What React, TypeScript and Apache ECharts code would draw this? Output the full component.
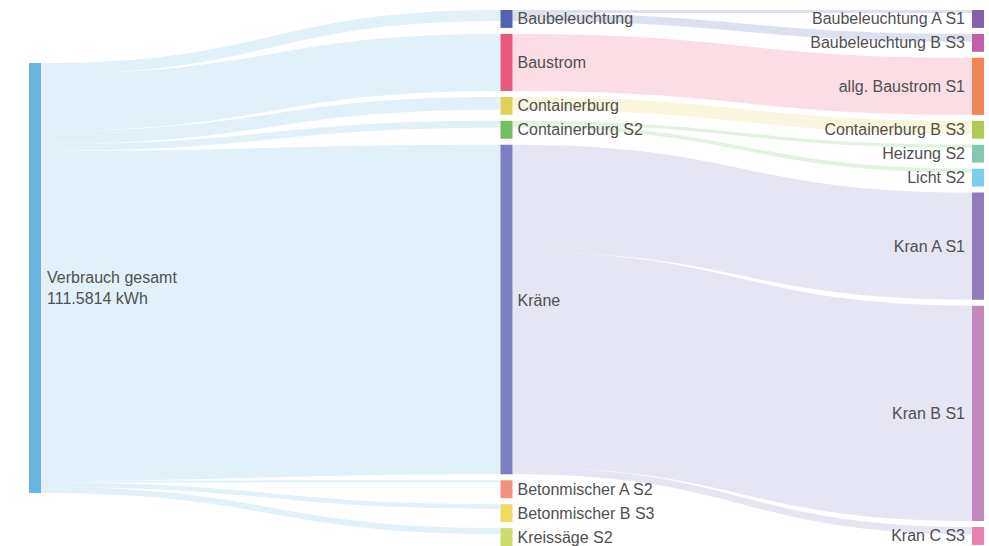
import React, { useEffect, useRef } from "react";
import * as echarts from "echarts";

const sourceNode = "Verbrauch gesamt";
const sourceColor = "#6ab4e0";
const sourceTotalLabel = "111.5814 kWh";

const middleNodes = [
  "Baubeleuchtung",
  "Baustrom",
  "Containerburg",
  "Containerburg S2",
  "Kräne",
  "Betonmischer A S2",
  "Betonmischer B S3",
  "Kreissäge S2",
];
const middleValues = [2.84, 14.8, 3.36, 1.81, 85.54, 0.52, 1.16, 1.55];
const middleColors = [
  "#5562b0",
  "#e9577c",
  "#e0d055",
  "#74bf62",
  "#7b7fc2",
  "#f4907c",
  "#f0da60",
  "#cddb6c",
];

const rightSources = [
  "Baubeleuchtung",
  "Baubeleuchtung",
  "Baustrom",
  "Containerburg",
  "Containerburg S2",
  "Containerburg S2",
  "Kräne",
  "Kräne",
  "Kräne",
];
const rightNodes = [
  "Baubeleuchtung A S1",
  "Baubeleuchtung B S3",
  "allg. Baustrom S1",
  "Containerburg B S3",
  "Heizung S2",
  "Licht S2",
  "Kran A S1",
  "Kran B S1",
  "Kran C S3",
];
const rightValues = [0.78, 2.06, 14.8, 3.36, 0.8, 1.01, 27.8, 55.9, 1.84];
const rightColors = [
  "#8460ad",
  "#c060a8",
  "#ee8658",
  "#aecb58",
  "#82c8b0",
  "#80ccf0",
  "#927bb8",
  "#c288bd",
  "#ea80b0",
];

// smallest drawn node size (in kWh units), as in the original chart
const minNodeValue = 4.65;

export default function App() {
  const ref = useRef<HTMLDivElement>(null);

  useEffect(() => {
    document.body.style.margin = "0";
    const chart = echarts.init(ref.current!, null, { renderer: "svg" });

    const layoutTop = 10;
    const layoutHeight = 536;
    const gap = 6;
    const colSum = (vals: number[]) =>
      vals.reduce((s, v) => s + Math.max(v, minNodeValue), 0);
    const total = middleValues.reduce((a, b) => a + b, 0);
    const ky = Math.min(
      (layoutHeight - (middleNodes.length - 1) * gap) / colSum(middleValues),
      (layoutHeight - (rightNodes.length - 1) * gap) / colSum(rightValues),
      layoutHeight / total
    );
    // center the single source node vertically in its column
    const srcLocalY = (layoutHeight - total * ky) / 2 / layoutHeight;

    const textStyle = {
      fontFamily: "'Liberation Sans', Arial, sans-serif",
      fontSize: 16,
      color: "#505050",
      lineHeight: 21,
    };

    const nodes: any[] = [
      {
        name: sourceNode,
        localY: srcLocalY,
        itemStyle: { color: sourceColor },
        label: {
          position: "insideLeft",
          offset: [13, 10],
          formatter: "{b}\n" + sourceTotalLabel,
          ...textStyle,
        },
      },
      ...middleNodes.map((n, i) => ({
        name: n,
        value: minNodeValue,
        itemStyle: { color: middleColors[i] },
        label: {
          position: "right",
          distance: 5,
          offset: n === "Kräne" ? [0, -9] : [0, 0],
          ...textStyle,
        },
      })),
      ...rightNodes.map((n, i) => ({
        name: n,
        value: minNodeValue,
        itemStyle: { color: rightColors[i] },
        label: { position: "left", distance: 7, ...textStyle },
      })),
    ];

    const links: any[] = [
      ...middleNodes.map((n, i) => ({
        source: sourceNode,
        target: n,
        value: middleValues[i],
      })),
      ...rightNodes.map((n, i) => ({
        source: rightSources[i],
        target: n,
        value: rightValues[i],
      })),
    ];

    chart.setOption({
      animation: false,
      tooltip: { show: false },
      series: [
        {
          type: "sankey",
          left: 29,
          right: 5,
          top: layoutTop,
          bottom: 546 - layoutTop - layoutHeight,
          nodeWidth: 12,
          nodeGap: gap,
          nodeAlign: "left",
          layoutIterations: 0,
          draggable: false,
          emphasis: { disabled: true },
          data: nodes,
          links: links,
          itemStyle: { borderWidth: 0 },
          lineStyle: { color: "source", opacity: 0.2, curveness: 0.5 },
          label: { ...textStyle },
        },
      ],
    });

    return () => chart.dispose();
  }, []);

  return <div ref={ref} style={{ width: 989, height: 546 }} />;
}
